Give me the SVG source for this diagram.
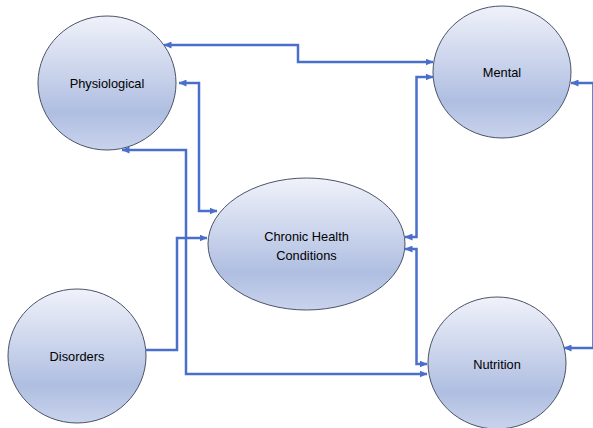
<svg xmlns="http://www.w3.org/2000/svg" width="593" height="428" viewBox="0 0 593 428">
<defs>
<linearGradient id="g" x1="0" y1="0" x2="0" y2="1">
<stop offset="0" stop-color="#F0F2FA"/>
<stop offset="0.72" stop-color="#AFBEE1"/>
<stop offset="1" stop-color="#C9D3EC"/>
</linearGradient>
<marker id="a" viewBox="0 0 8 7" refX="7.5" refY="3.5" markerWidth="8" markerHeight="7" markerUnits="userSpaceOnUse" orient="auto-start-reverse">
<path d="M0,0 L8,3.5 L0,7 z" fill="#4A6FCB"/>
</marker>
</defs>
<style>
.n{fill:url(#g);stroke:#4B5369;stroke-width:1}
.t{font-family:"Liberation Sans",Arial,sans-serif;font-size:12.8px;fill:#000;text-anchor:middle}
.c{fill:none;stroke:#4A6FCB;stroke-width:2.5}
.b{marker-start:url(#a);marker-end:url(#a)}
.e{marker-end:url(#a)}
</style>
<rect width="593" height="428" fill="#fff"/>
<g id="physiological"><ellipse class="n" cx="107" cy="83" rx="69" ry="67"/><text class="t" x="107" y="88">Physiological</text></g>
<g id="mental"><ellipse class="n" cx="502" cy="72" rx="69" ry="66"/><text class="t" x="502" y="77">Mental</text></g>
<g id="chronic"><ellipse class="n" cx="306.5" cy="244" rx="98.5" ry="66"/><text class="t" x="306.5" y="241">Chronic Health</text><text class="t" x="306.5" y="260">Conditions</text></g>
<g id="disorders"><ellipse class="n" cx="77" cy="356" rx="69" ry="67"/><text class="t" x="77" y="361">Disorders</text></g>
<g id="nutrition"><ellipse class="n" cx="497" cy="363" rx="69" ry="66"/><text class="t" x="497" y="369">Nutrition</text></g>
<g id="connectors">
<path class="c b" d="M164,45 H298 V62 H433"/>
<path class="c b" d="M179,83 H199 V211 H217"/>
<path class="c b" d="M433,77 H416.5 V237 H405"/>
<path class="c e" d="M146,350 H177 V238 H207"/>
<path class="c b" d="M122,150 H186 V374 H427"/>
<path class="c b" d="M571,83 H593.4 V348 H564"/>
<path class="c b" d="M405,249 H416.5 V364 H427"/>
</g>
</svg>
